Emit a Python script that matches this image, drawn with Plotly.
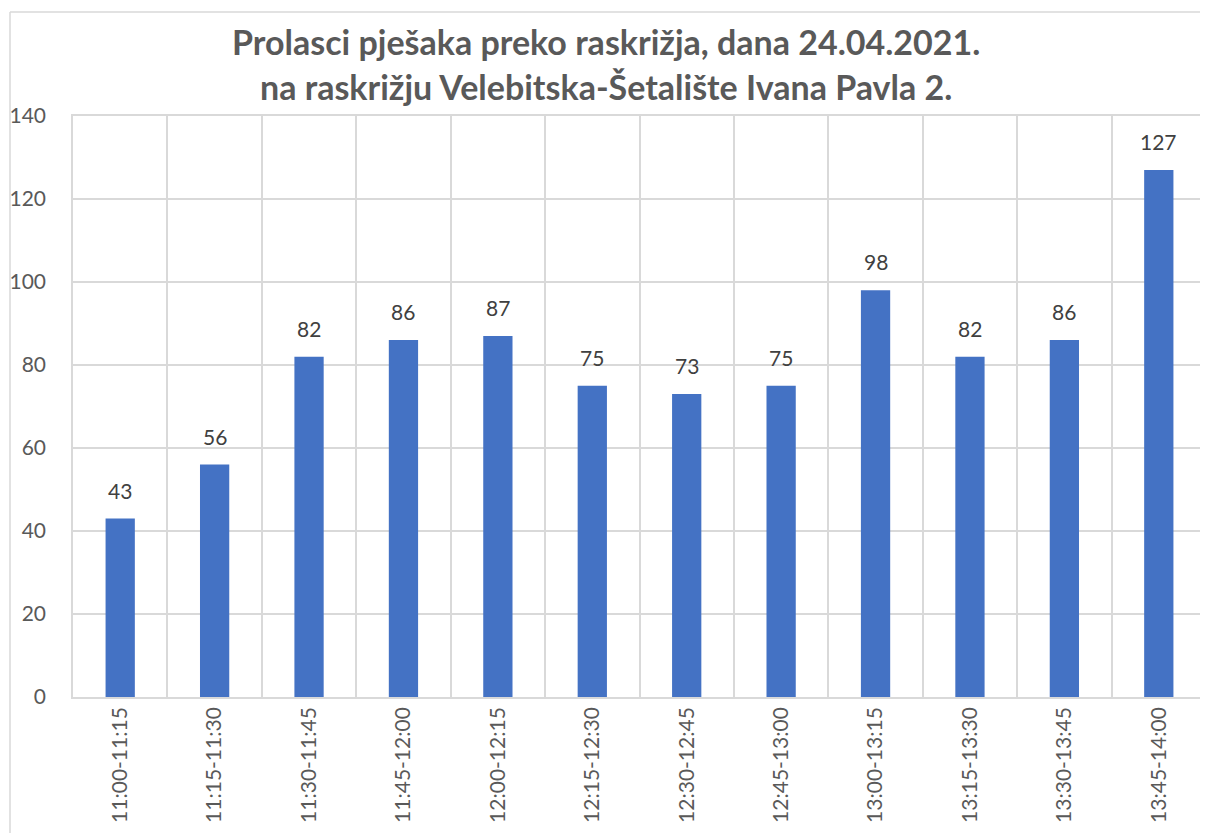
import plotly.graph_objects as go

categories = ["11:00-11:15", "11:15-11:30", "11:30-11:45", "11:45-12:00", "12:00-12:15",
              "12:15-12:30", "12:30-12:45", "12:45-13:00", "13:00-13:15", "13:15-13:30",
              "13:30-13:45", "13:45-14:00"]
values = [43, 56, 82, 86, 87, 75, 73, 75, 98, 82, 86, 127]
title_lines = ["Prolasci pješaka preko raskrižja, dana 24.04.2021.",
               "na raskrižju Velebitska-Šetalište Ivana Pavla 2."]

FONT = "Lato"
GRID = "#d9d9d9"

# page has an 8px body margin; compensate
OFF = 8
W, H = 1208 - OFF, 833 - OFF
L, T = 73 - OFF, 116 - OFF
R = W - (1206 - OFF)
B = H - (697 - OFF)
pw = W - L - R
ph = H - T - B


def px(x):
    return (x - OFF - L) / pw


def py(y):
    return (H - B - (y - OFF)) / ph


fig = go.Figure()
fig.add_trace(go.Bar(x=categories, y=values, marker=dict(color="#4472C4", line=dict(width=0)),
                     hoverinfo="x+y"))

for c, v in zip(categories, values):
    fig.add_annotation(x=c, y=v, text=str(v), showarrow=False, yanchor="bottom",
                       yshift=14, font=dict(family=FONT, size=21, color="#404040"))

# title lines
for line, yc in zip(title_lines, [41, 87]):
    fig.add_annotation(xref="paper", yref="paper", x=px(606), y=py(yc), text="<b>" + line + "</b>",
                       showarrow=False, xanchor="center", yanchor="middle",
                       font=dict(family=FONT, size=34, color="#595959"))

# outer chart border (left and top visible)
fig.add_shape(type="line", xref="paper", yref="paper",
              x0=px(10), x1=px(10), y0=py(840), y1=py(12),
              line=dict(color=GRID, width=1.5))
fig.add_shape(type="line", xref="paper", yref="paper",
              x0=px(10), x1=px(1215), y0=py(12), y1=py(12),
              line=dict(color=GRID, width=1.5))

fig.update_layout(
    width=W, height=H,
    margin=dict(l=L, r=R, t=T, b=B, autoexpand=False),
    paper_bgcolor="white", plot_bgcolor="white",
    bargap=0.69,
    showlegend=False,
    xaxis=dict(type="category", tickson="boundaries", showgrid=True, gridcolor=GRID, gridwidth=1.5,
               showline=True, linecolor=GRID, linewidth=1.5, mirror=True, ticks="",
               tickangle=-90, tickfont=dict(family=FONT, size=21, color="#595959")),
    yaxis=dict(range=[0, 140], dtick=20, showgrid=True, gridcolor=GRID, gridwidth=1.5,
               showline=True, linecolor=GRID, linewidth=1.5, mirror=True, zeroline=False, ticks="",
               ticklabelstandoff=21,
               tickfont=dict(family=FONT, size=21, color="#595959")),
)

fig.write_html("out.html")
